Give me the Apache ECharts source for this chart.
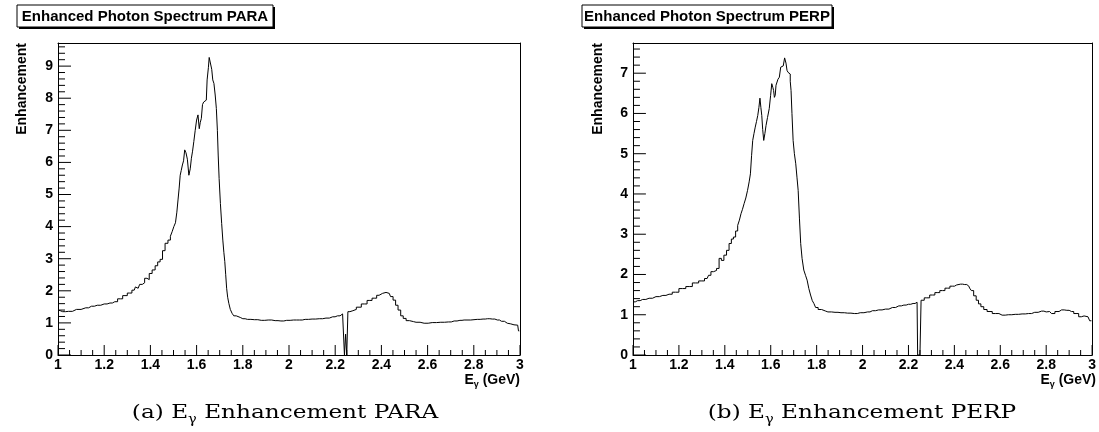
<!DOCTYPE html>
<html>
<head>
<meta charset="utf-8">
<script src="https://cdn.jsdelivr.net/npm/echarts@6/dist/echarts.min.js"></script>
<style>html,body{margin:0;padding:0;background:#fff;}#c{width:1099px;height:432px;}</style>
</head>
<body>
<div id="c"></div>
<script>
// ---- data (E_gamma in GeV, enhancement) ----
const paraX = [1.000,1.010,1.020,1.045,1.080,1.120,1.145,1.170,1.200,1.225,1.246,1.270,1.290,1.310,1.330,1.340,1.347,1.360,1.370,1.380,1.390,1.400,1.415,1.426,1.437,1.447,1.458,1.469,1.483,1.490,1.498,1.505,1.512,1.517,1.522,1.527,1.531,1.536,1.541,1.546,1.551,1.557,1.563,1.570,1.575,1.580,1.585,1.591,1.597,1.603,1.609,1.614,1.618,1.623,1.628,1.633,1.642,1.649,1.653,1.656,1.663,1.668,1.672,1.678,1.683,1.688,1.692,1.695,1.700,1.706,1.711,1.716,1.720,1.724,1.728,1.732,1.737,1.742,1.750,1.757,1.765,1.778,1.800,1.820,1.850,1.880,1.910,1.940,1.965,1.990,2.020,2.045,2.070,2.100,2.131,2.160,2.189,2.210,2.232,2.2375,2.2425,2.2475,2.2525,2.2575,2.270,2.283,2.300,2.326,2.350,2.369,2.390,2.405,2.420,2.434,2.445,2.456,2.467,2.477,2.490,2.499,2.515,2.528,2.550,2.585,2.620,2.657,2.690,2.715,2.740,2.758,2.815,2.840,2.859,2.880,2.902,2.920,2.945,2.960,2.974,2.990,2.997];
const paraY = [1.40,1.38,1.35,1.36,1.42,1.47,1.52,1.55,1.59,1.62,1.66,1.75,1.85,1.93,2.02,2.12,2.08,2.20,2.25,2.39,2.35,2.54,2.65,2.78,2.90,2.98,3.25,3.48,3.58,3.70,3.84,4.00,4.12,4.45,4.83,5.20,5.60,5.75,5.92,6.05,6.39,6.30,6.10,5.60,5.80,6.13,6.35,6.65,7.00,7.32,7.48,7.05,7.25,7.37,7.80,7.88,7.94,8.57,8.95,9.27,9.27,8.90,8.57,8.46,8.10,7.68,7.00,6.23,5.50,4.72,4.10,3.58,3.20,2.91,2.50,2.08,1.80,1.61,1.42,1.30,1.22,1.17,1.13,1.11,1.10,1.08,1.09,1.07,1.06,1.08,1.09,1.09,1.11,1.12,1.13,1.15,1.19,1.22,1.28,1.30,0.00,0.65,0.00,1.35,1.38,1.42,1.49,1.59,1.70,1.77,1.86,1.92,1.95,1.92,1.82,1.71,1.55,1.40,1.22,1.14,1.07,1.04,1.02,0.99,1.01,1.02,1.03,1.06,1.08,1.09,1.11,1.12,1.13,1.12,1.09,1.05,0.99,0.97,0.94,0.93,0.75];

const perpX = [1.000,1.020,1.042,1.070,1.100,1.130,1.157,1.185,1.215,1.245,1.272,1.300,1.323,1.335,1.344,1.358,1.370,1.380,1.390,1.402,1.413,1.424,1.433,1.442,1.452,1.460,1.467,1.474,1.480,1.488,1.495,1.503,1.509,1.514,1.519,1.524,1.530,1.535,1.541,1.546,1.551,1.555,1.559,1.563,1.567,1.572,1.577,1.582,1.590,1.597,1.602,1.607,1.611,1.614,1.618,1.621,1.625,1.628,1.635,1.640,1.647,1.652,1.657,1.664,1.669,1.673,1.678,1.683,1.687,1.690,1.695,1.700,1.706,1.712,1.717,1.722,1.728,1.733,1.740,1.748,1.755,1.762,1.770,1.777,1.785,1.791,1.800,1.813,1.830,1.849,1.880,1.906,1.935,1.964,1.990,2.022,2.043,2.070,2.100,2.130,2.158,2.180,2.200,2.220,2.2375,2.2425,2.2475,2.2525,2.2575,2.280,2.305,2.325,2.348,2.370,2.391,2.410,2.427,2.445,2.463,2.470,2.478,2.490,2.500,2.510,2.521,2.535,2.550,2.580,2.608,2.635,2.665,2.695,2.723,2.750,2.780,2.800,2.815,2.831,2.845,2.867,2.890,2.910,2.930,2.953,2.965,2.982,2.997];
const perpY = [1.32,1.35,1.38,1.41,1.45,1.48,1.51,1.56,1.65,1.70,1.79,1.84,1.90,1.98,2.07,2.10,2.15,2.40,2.35,2.48,2.60,2.77,2.88,2.93,3.08,3.22,3.35,3.51,3.62,3.76,3.90,4.09,4.30,4.50,4.95,5.33,5.50,5.66,5.80,5.95,6.15,6.38,6.15,5.95,5.60,5.33,5.50,5.70,5.90,6.12,6.45,6.74,6.65,6.57,6.40,6.45,6.70,6.74,6.85,6.90,7.15,7.18,7.19,7.38,7.25,7.07,7.02,6.98,6.80,6.57,6.00,5.33,5.00,4.75,4.40,4.09,3.40,2.77,2.40,2.11,1.98,1.86,1.65,1.49,1.35,1.28,1.18,1.13,1.09,1.07,1.06,1.05,1.04,1.03,1.05,1.07,1.10,1.12,1.14,1.18,1.22,1.24,1.26,1.28,1.31,0.00,0.00,0.00,1.36,1.42,1.49,1.55,1.60,1.66,1.71,1.74,1.76,1.75,1.71,1.66,1.60,1.47,1.36,1.27,1.20,1.13,1.08,1.03,0.99,1.00,1.01,1.02,1.03,1.06,1.09,1.07,1.08,1.03,1.08,1.12,1.11,1.08,1.03,0.95,0.97,0.95,0.85];

const xRange = [1, 3];
const xMajorStep = 0.2, xMinorStep = 0.05;
const yMajorStep = 1, yMinorStep = 0.2;
const paraYMax = 9.72;
const perpYMax = 7.75;
const panelTitles = ['Enhanced Photon Spectrum PARA', 'Enhanced Photon Spectrum PERP'];
const captions = [['(a) E', 'γ', ' Enhancement PARA'], ['(b) E', 'γ', ' Enhancement PERP']];
const yAxisTitle = 'Enhancement';

// ---- chart ----
const zip = (xs, ys) => xs.map((x, i) => [x, ys[i]]);
const SANS = 'Liberation Sans, Arial, Helvetica, sans-serif';
const SERIF = 'DejaVu Serif, serif';
const BLACK = { color: '#000', width: 1 };

const GRID_W = 462, GRID_H = 312;
const grids = [
  { left: 58, top: 43, width: GRID_W, height: GRID_H },
  { left: 633, top: 43, width: GRID_W + 1, height: GRID_H }
];

const intLabel = v => (Math.abs(v - Math.round(v)) < 1e-6 ? String(Math.round(v)) : '');
function frameAxis(gi, pos, min, max, extra) {
  return Object.assign({
    gridIndex: gi, type: 'value', position: pos, min: min, max: max,
    axisLine: { show: true, onZero: false, lineStyle: BLACK },
    axisTick: { show: false }, axisLabel: { show: false }, splitLine: { show: false }
  }, extra || {});
}
function xAxes(gi) {
  return [
    frameAxis(gi, 'bottom', xRange[0], xRange[1], { interval: xMajorStep,
      axisLabel: { show: true, margin: 3, color: '#000', fontFamily: SANS, fontWeight: 'bold', fontSize: 14 } }),
    frameAxis(gi, 'top', xRange[0], xRange[1])
  ];
}
function yAxes(gi, ymax) {
  return [
    frameAxis(gi, 'left', 0, ymax, { interval: yMajorStep,
      axisLabel: { show: true, margin: 5, showMaxLabel: false, formatter: intLabel, color: '#000', fontFamily: SANS, fontWeight: 'bold', fontSize: 14 } }),
    frameAxis(gi, 'right', 0, ymax)
  ];
}

// ROOT-style ticks pointing into the frame: short segments drawn on the panel's own axes
// (tick lengths of 10/5 px on x and 13/7 px on y, converted to axis units)
function steps(a, b, s) { const out = []; const n = Math.floor((b - a) / s + 1e-9); for (let i = 0; i <= n; i++) out.push(+(a + i * s).toFixed(6)); return out; }
function tickSegments(ymax) {
  const d = [];
  const yPerPx = ymax / GRID_H, xPerPx = (xRange[1] - xRange[0]) / GRID_W;
  steps(xRange[0], xRange[1], xMinorStep).forEach(v => {
    const major = Math.abs(v / xMajorStep - Math.round(v / xMajorStep)) < 1e-6;
    d.push([v, 0], [v, (major ? 10 : 5) * yPerPx], [v, '-']);
  });
  steps(0, ymax, yMinorStep).forEach(v => {
    const major = Math.abs(v / yMajorStep - Math.round(v / yMajorStep)) < 1e-6;
    d.push([xRange[0], v], [xRange[0] + (major ? 13 : 7) * xPerPx, v], ['-', v]);
  });
  return d;
}
function tickSeries(axisIdx, ymax) {
  return {
    type: 'line', xAxisIndex: axisIdx, yAxisIndex: axisIdx, silent: true, clip: false, z: 4,
    showSymbol: false, symbol: 'none', connectNulls: false,
    lineStyle: BLACK, data: tickSegments(ymax)
  };
}

function titleBox(x, w, text) {
  return {
    type: 'group', children: [
      { type: 'rect', shape: { x: x + 2, y: 7, width: w, height: 22 }, style: { fill: '#000' } },
      { type: 'rect', shape: { x: x, y: 5, width: w, height: 22 }, style: { fill: '#fff', stroke: '#000', lineWidth: 1 } },
      { type: 'text', x: x + w / 2, y: 16.5, style: { text: text, font: 'bold 15px ' + SANS, fill: '#000', align: 'center', verticalAlign: 'middle' } }
    ]
  };
}
function caption(cx, parts) {
  return {
    type: 'text', x: cx, y: 415, scaleX: 1.22,
    style: {
      text: '{n|' + parts[0] + '}{s|' + parts[1] + '}{n|' + parts[2] + '}',
      align: 'center', verticalAlign: 'middle',
      rich: {
        n: { fontFamily: SERIF, fontSize: 19, color: '#000', lineHeight: 22, verticalAlign: 'top' },
        s: { fontFamily: SERIF, fontSize: 12, color: '#000', lineHeight: 14, verticalAlign: 'bottom' }
      }
    }
  };
}
function xTitle(rightX) {
  return {
    type: 'text', x: rightX, y: 381,
    style: {
      text: '{e|E}{g|γ}{t| (GeV)}', align: 'right', verticalAlign: 'middle',
      rich: {
        e: { fontFamily: SANS, fontWeight: 'bold', fontSize: 14, color: '#000', lineHeight: 16, verticalAlign: 'top' },
        g: { fontFamily: SANS, fontWeight: 'bold', fontSize: 9, color: '#000', lineHeight: 10, verticalAlign: 'bottom' },
        t: { fontFamily: SANS, fontWeight: 'bold', fontSize: 14, color: '#000', lineHeight: 16, verticalAlign: 'top' }
      }
    }
  };
}
function yTitle(x) {
  return { type: 'text', x: x, y: 43, rotation: Math.PI / 2,
    style: { text: yAxisTitle, font: 'bold 14px ' + SANS, fill: '#000', align: 'right', verticalAlign: 'middle' } };
}

const chart = echarts.init(document.getElementById('c'), null, { renderer: 'canvas' });
chart.setOption({
  animation: false,
  backgroundColor: '#fff',
  grid: grids.map(g => Object.assign({ show: false, containLabel: false }, g)),
  xAxis: [...xAxes(0), ...xAxes(1)],
  yAxis: [...yAxes(0, paraYMax), ...yAxes(1, perpYMax)],
  series: [
    { type: 'line', xAxisIndex: 0, yAxisIndex: 0, step: 'middle', showSymbol: false, symbol: 'none', clip: true,
      lineStyle: BLACK, data: zip(paraX, paraY) },
    { type: 'line', xAxisIndex: 2, yAxisIndex: 2, step: 'middle', showSymbol: false, symbol: 'none', clip: true,
      lineStyle: BLACK, data: zip(perpX, perpY) },
    tickSeries(0, paraYMax),
    tickSeries(2, perpYMax)
  ],
  graphic: [
    titleBox(17, 256, panelTitles[0]),
    titleBox(582, 250, panelTitles[1]),
    yTitle(22), yTitle(598),
    xTitle(520), xTitle(1096),
    caption(285, captions[0]), caption(862, captions[1])
  ]
});
</script>
</body>
</html>
